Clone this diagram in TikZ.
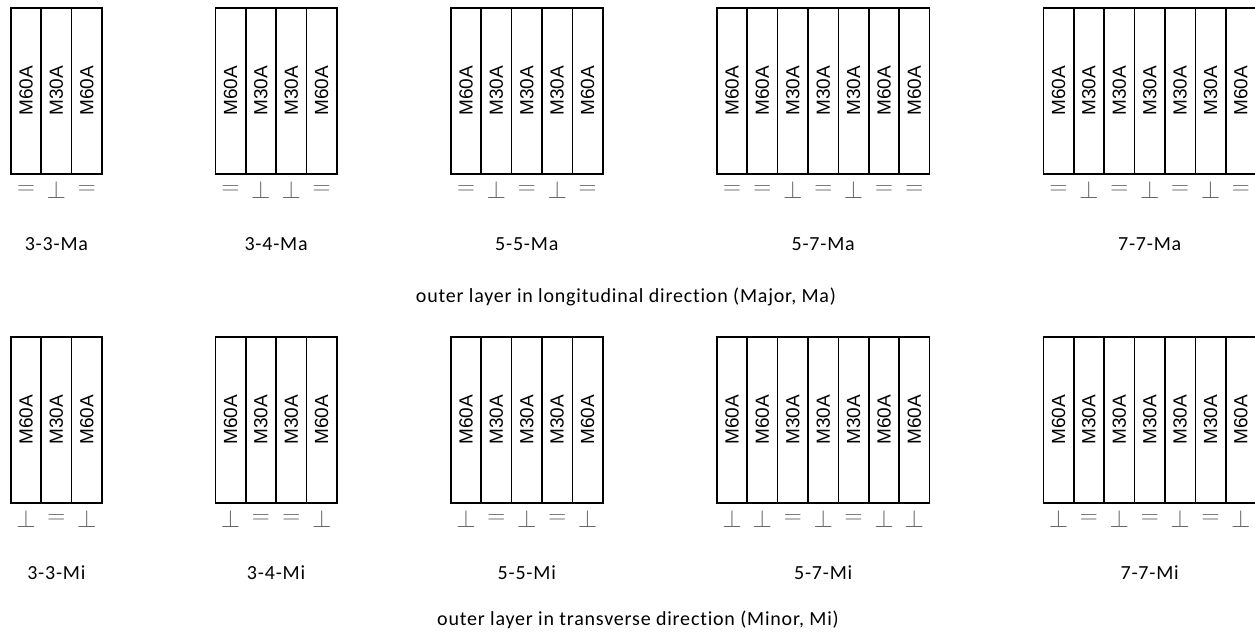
\documentclass[tikz,border=0pt]{standalone}
\usepackage{fontspec}
\usepackage{graphicx}
\usetikzlibrary{calc}
\newfontfamily\lblfont[LetterSpace=4,Ligatures={NoCommon,NoRare,NoContextual}]{Carlito}
\newfontfamily\stripfont{Liberation Sans}
\tikzset{
  strip/.style={draw, line width=1.6pt, rectangle, minimum width=30.4pt, minimum height=166pt,
    inner sep=0pt, anchor=north west, font=\stripfont\fontsize{19}{19}\selectfont},
  sym/.style={text=black!60, font=\fontsize{23}{23}\selectfont, inner sep=0pt},
  lbl/.style={font=\lblfont\fontsize{20}{24}\selectfont, inner sep=0pt, anchor=base},
}
% #1 name, #2 x, #3 top y, #4 strips, #5 symbols, #6 label
\newcommand\mypanel[6]{%
  \foreach \s [count=\i] in {#4} {
    \node[strip] (#1s\i) at ({#2+(\i-1)*30.4},#3) {\rotatebox{90}{\s}};
    \coordinate (#1end) at (#1s\i.south east);
  }
  \foreach \m [count=\i] in {#5} {
    \node[sym] (#1m\i) at ([yshift=-15pt]#1s\i.south) {$\m$};
  }
  \coordinate (#1mid) at ($(#1s1.south west)!0.5!(#1end)$);
  \node[lbl] (#1lbl) at ([yshift=-76pt]#1mid) {#6};
}
\begin{document}
\begin{tikzpicture}[x=1pt,y=-1pt]
  \fill[white] (0,0) rectangle (1255,637);
  \useasboundingbox (0,0) rectangle (1255,637);
  % Major row
  \mypanel{aa}{10}{7}{M60A,M30A,M60A}{=,\perp,=}{3-3-Ma}
  \mypanel{ab}{214.5}{7}{M60A,M30A,M30A,M60A}{=,\perp,\perp,=}{3-4-Ma}
  \mypanel{ac}{450}{7}{M60A,M30A,M30A,M30A,M60A}{=,\perp,=,\perp,=}{5-5-Ma}
  \mypanel{ad}{716}{7}{M60A,M60A,M30A,M30A,M30A,M60A,M60A}{=,=,\perp,=,\perp,=,=}{5-7-Ma}
  \mypanel{ae}{1042.5}{7}{M60A,M30A,M30A,M30A,M30A,M30A,M60A}{=,\perp,=,\perp,=,\perp,=}{7-7-Ma}
  \node[lbl] (capMa) at (626,302) {outer layer in longitudinal direction (Major, Ma)};
  % Minor row
  \mypanel{ba}{10}{336}{M60A,M30A,M60A}{\perp,=,\perp}{3-3-Mi}
  \mypanel{bb}{214.5}{336}{M60A,M30A,M30A,M60A}{\perp,=,=,\perp}{3-4-Mi}
  \mypanel{bc}{450}{336}{M60A,M30A,M30A,M30A,M60A}{\perp,=,\perp,=,\perp}{5-5-Mi}
  \mypanel{bd}{716}{336}{M60A,M60A,M30A,M30A,M30A,M60A,M60A}{\perp,\perp,=,\perp,=,\perp,\perp}{5-7-Mi}
  \mypanel{be}{1042.5}{336}{M60A,M30A,M30A,M30A,M30A,M30A,M60A}{\perp,=,\perp,=,\perp,=,\perp}{7-7-Mi}
  \node[lbl] (capMi) at (638,625) {outer layer in transverse direction (Minor, Mi)};
\end{tikzpicture}
\end{document}
